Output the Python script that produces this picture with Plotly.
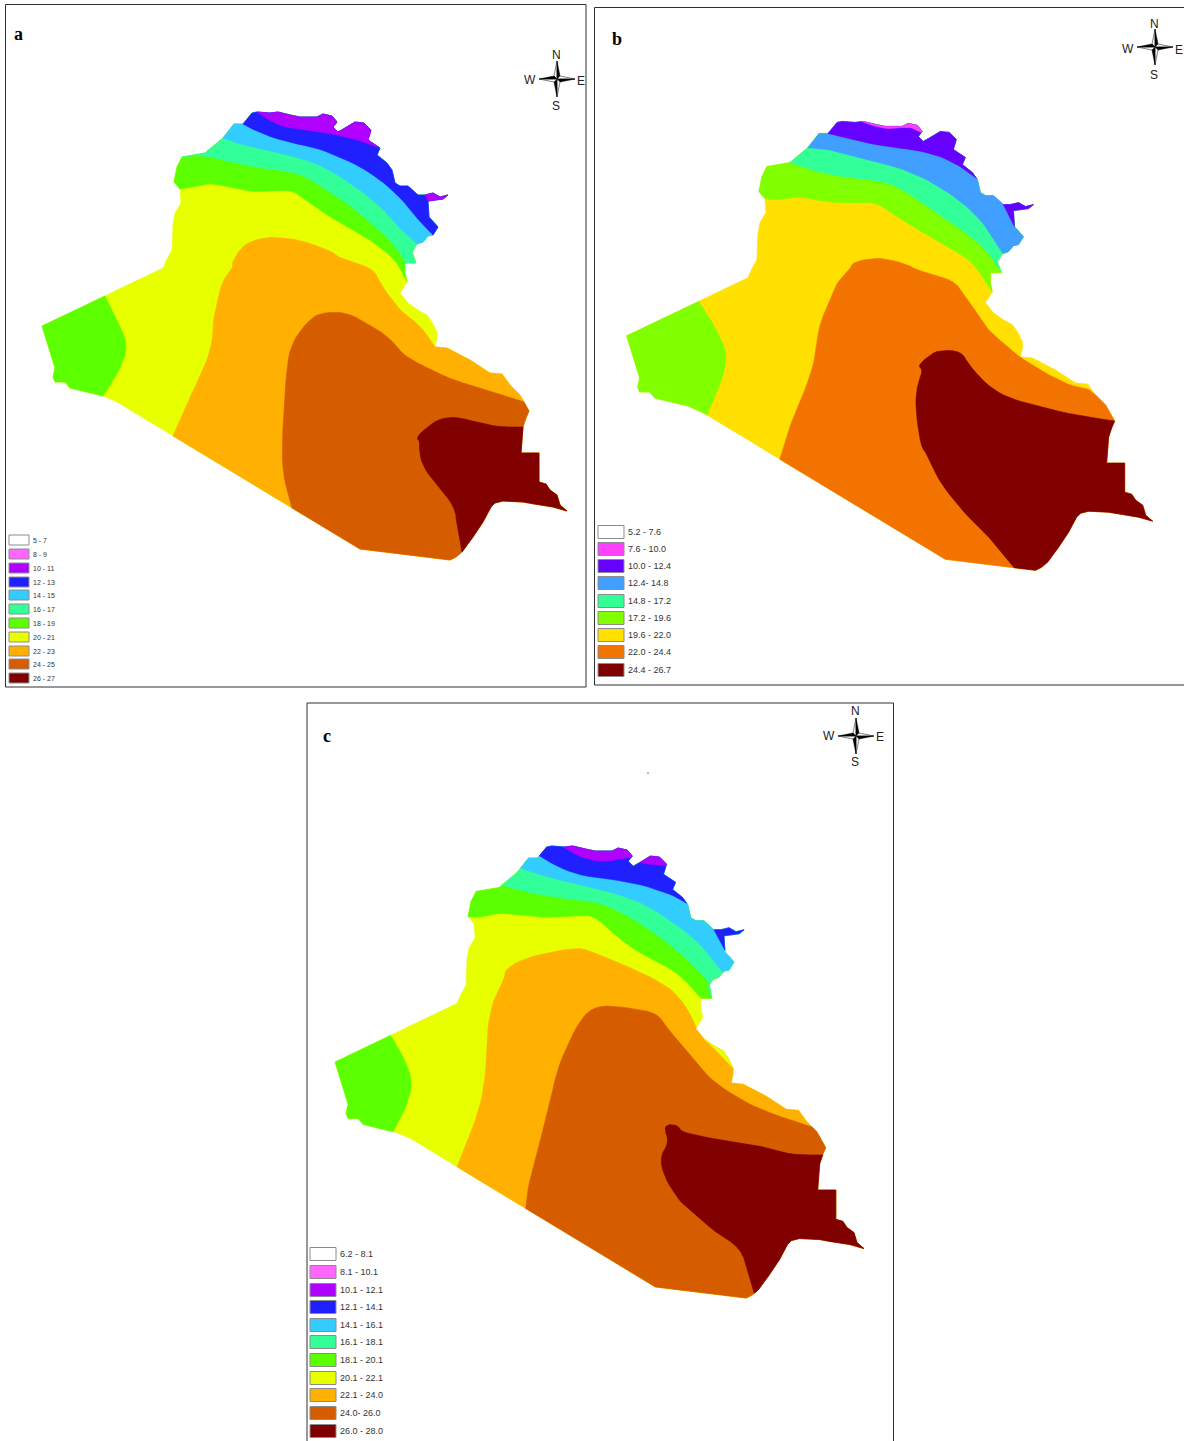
import plotly.graph_objects as go

# Country boundary (pixel-like map coordinates), clockwise
BORDER = [(42,326),(105,296),(138,280),(163,268),(167,259),(172,250),(173,224),(175,213),(181,203),(180,189),(174,182),
(177,167),(182,157),(205,153),(223,138),(234,124),(243,124),(252,113),(257,112),(270,113),(278,112),(290,115),
(300,117),(317,117),(323,114),(332,116),(337,122),(333,127),(338,132),(345,128),(355,122),(364,123),(371,130),
(368,140),(380,148),(377,155),(387,163),(392,170),(395,183),(400,186),(408,186),(418,195),(425,195),(433,193),
(440,197),(448,195),(443,199),(428,201),(429,217),(438,227),(433,235),(428,236),(423,242),(417,244),(412,252),
(416,263),(405,263),(405,273),(407,282),(400,293),(408,303),(418,310),(427,315),(432,322),(437,332),(437,338),(435,347),(447,348),
(470,360),(490,373),(502,374),(510,385),(520,395),(524,402),(529,411),(526,418),(523,427),(521,453),(539,453),
(539,482),(546,484),(550,490),(557,495),(560,505),(567,511),(553,507),(533,504),(523,502),(503,501),(495,503),(491,507),
(483,522),(473,537),(462,552),(456,557),(450,560),(360,549),(292,508),(173,436),(117,402),(103,396),(70,388),(65,382),
(55,382),(53,377),(55,368)]

# Panel a isotherm boundaries
A_GREEN_N = [(407,282),(400,267),(390,255),(373,242),(353,230),(330,217),(310,203),(293,190),(273,191),(253,192),(230,187),(210,183),(193,187),(180,189)]
A_TEAL = [(405,263),(403,257),(390,240),(370,222),(347,203),(323,188),(307,177),(287,171),(260,168),(230,162),(203,155),(182,157)]
A_SKY = [(417,244),(403,232),(387,213),(367,195),(343,178),(320,165),(297,157),(270,151),(243,145),(223,138)]
A_BLUE = [(433,235),(420,222),(407,205),(387,185),(363,168),(340,157),(317,148),(287,142),(260,133),(243,124)]
A_PURPLE = [(380,148),(367,143),(347,137),(327,133),(300,130),(277,125),(257,112)]
A_PURPLE2 = [(428,201),(425,195)]
A_WEST = [(105,296),(113,313),(129,345),(118,373),(103,396)]
A_ORANGE = [(173,436),(187,403),(200,377),(212,347),(213,323),(215,313),(218,297),(223,280),(233,268),(232,263),(238,252),(248,242),(267,237),(287,238),(307,242),(333,252),(337,257),(373,268),(380,283),(392,300),(403,313),(420,325),(435,347)]
A_DARK = [(292,508),(286,488),(282,463),(283,423),(286,377),(290,347),(302,328),(315,315),(330,312),(348,313),(370,325),(390,338),(403,355),(427,368),(453,380),(480,388),(510,397),(524,402)]
A_RED = [(462,552),(457,527),(455,507),(437,485),(423,467),(419,450),(420,442),(416,437),(432,423),(443,418),(457,417),(480,423),(500,427),(523,427)]

# Panel b isotherm boundaries
B_LIME_N = [(992,292),(983,277),(970,260),(953,250),(930,237),(907,223),(890,212),(875,202),(850,203),(827,202),(798,196),(780,200),(766,199)]
B_TEAL = [(1001,272),(990,255),(973,238),(950,222),(923,203),(900,188),(882,181),(850,178),(817,172),(790,163)]
B_SKY = [(1003,254),(983,222),(963,203),(937,185),(913,173),(890,165),(860,158),(833,150),(808,148)]
B_VIOLET = [(977,178),(963,168),(943,157),(917,150),(890,147),(867,143),(847,137),(828,134)]
B_VIOLET2 = [(1014,227),(1003,205)]
B_PINK = [(922,133),(913,128),(905,127),(890,129),(877,127),(862,123)]
B_WEST = [(699,302),(710,318),(723,343),(727,357),(722,380),(707,415)]
B_ORANGE = [(780,459),(789,428),(799,405),(813,368),(816,347),(820,323),(830,300),(837,282),(850,270),(852,263),(867,259),(883,258),(910,265),(913,269),(953,280),(963,293),(977,313),(988,330),(1002,342),(1019,357),(1047,374),(1071,386),(1087,388),(1095,395)]
B_RED = [(1014,569),(992,540),(971,520),(951,497),(937,477),(928,455),(921,447),(916,413),(916,390),(923,370),(918,366),(926,358),(938,350),(961,351),(969,365),(987,385),(1006,397),(1033,405),(1074,415),(1115,421)]

# Panel c isotherm boundaries
C_GREEN_N = [(701,998),(687,982),(670,968),(647,957),(623,942),(597,918),(587,915),(560,917),(537,917),(503,912),(483,917),(468,917)]
C_TEAL = [(712,998),(710,983),(690,962),(667,942),(640,923),(617,910),(597,902),(560,898),(530,893),(503,887)]
C_SKY = [(720,970),(700,943),(677,925),(650,907),(627,897),(603,890),(580,885),(550,878),(523,870)]
C_BLUE = [(687,903),(673,895),(643,885),(617,880),(583,876),(560,868),(542,858)]
C_BLUE2 = [(725,950),(714,930)]
C_PURPLE = [(633,858),(617,860),(600,862),(580,857),(563,848)]
C_PURPLE2 = [(667,866),(655,865),(645,864),(640,862)]
C_WEST = [(391,1036),(404,1058),(413,1082),(406,1108),(393,1132)]
C_ORANGE = [(457,1167),(468,1140),(480,1107),(485,1080),(487,1050),(487,1032),(493,1000),(505,978),(505,970),(520,960),(550,952),(577,948),(588,950),(617,962),(647,975),(673,990),(687,1008),(697,1028)]
C_YELLOW2 = [(733,1068),(722,1056),(704,1039)]
C_DARK = [(526,1208),(528,1187),(537,1153),(550,1103),(557,1070),(571,1037),(585,1013),(602,1005),(630,1008),(657,1013),(667,1028),(692,1057),(709,1078),(733,1095),(757,1108),(784,1118),(811,1128)]
C_RED = [(754,1293),(748,1273),(741,1248),(712,1230),(688,1207),(681,1203),(664,1177),(660,1157),(669,1142),(664,1128),(669,1124),(679,1126),(681,1132),(719,1140),(757,1145),(791,1155),(823,1155)]

# Legend labels and colours
A_LABELS = ["5 - 7","8 - 9","10 - 11","12 - 13","14 - 15","16 - 17","18 - 19","20 - 21","22 - 23","24 - 25","26 - 27"]
B_LABELS = ["5.2 - 7.6","7.6 - 10.0","10.0 - 12.4","12.4- 14.8","14.8 - 17.2","17.2 - 19.6","19.6 - 22.0","22.0 - 24.4","24.4 - 26.7"]
C_LABELS = ["6.2 - 8.1","8.1 - 10.1","10.1 - 12.1","12.1 - 14.1","14.1 - 16.1","16.1 - 18.1","18.1 - 20.1","20.1 - 22.1","22.1 - 24.0","24.0- 26.0","26.0 - 28.0"]
AC_COLORS = ["#FFFFFF","#FF66FF","#B000FF","#2020FF","#33CCFF","#33FF99","#5CFF00","#E8FF00","#FFB000","#D65C00","#800000"]
B_COLORS = ["#FFFFFF","#FF40FF","#6600FF","#409FFF","#33FF99","#80FF00","#FFE000","#F27300","#800000"]
COMPASS_LETTERS = ["N","E","S","W"]

fig = go.Figure()

def poly(pts, color, line=0):
    fig.add_trace(go.Scatter(x=[p[0] for p in pts]+[pts[0][0]], y=[p[1] for p in pts]+[pts[0][1]],
        mode="lines", fill="toself", fillcolor=color,
        line=dict(color=color if not line else "#000000", width=line if line else 0.6),
        hoverinfo="skip", showlegend=False))

def fit(sx, sy, dx, dy):
    return [(x*sx+dx, y*sy+dy) for x, y in BORDER]

def project(outline, p):
    """Nearest place on the outline: (segment index, position along it, point)."""
    best = None
    n = len(outline)
    for i in range(n):
        ax, ay = outline[i]
        bx, by = outline[(i+1) % n]
        dx, dy = bx-ax, by-ay
        t = max(0.0, min(1.0, ((p[0]-ax)*dx+(p[1]-ay)*dy)/max(dx*dx+dy*dy, 1e-9)))
        q = (ax+t*dx, ay+t*dy)
        d = (q[0]-p[0])**2+(q[1]-p[1])**2
        if best is None or d < best[0]:
            best = (d, i, t, q)
    return best[1:]

def rounded(path, rounds=2):
    """Corner cutting so that drawn boundaries look as smooth as the isotherms."""
    for _ in range(rounds):
        new = [path[0]]
        for a, b in zip(path[:-1], path[1:]):
            new.append((0.75*a[0]+0.25*b[0], 0.75*a[1]+0.25*b[1]))
            new.append((0.25*a[0]+0.75*b[0], 0.25*a[1]+0.75*b[1]))
        new.append(path[-1])
        path = new
    return path

def cut(outline, divider):
    ia, ta, qa = project(outline, divider[0])
    ib, tb, qb = project(outline, divider[-1])
    path = rounded([qa]+list(divider[1:-1])+[qb])
    n = len(outline)
    seq = []
    if not (ia == ib and tb <= ta):
        j = (ib+1) % n
        while True:
            seq.append(outline[j])
            if j == ia:
                break
            j = (j+1) % n
    return path+seq

def map_panel(outline, base, layers):
    poly(outline, base)
    for color, divider in layers:
        poly(cut(outline, divider), color)

PA, PB, PC = AC_COLORS, B_COLORS, AC_COLORS
OUT_A = fit(1, 1, 0, 0)
map_panel(OUT_A, PA[7], [(PA[6],A_GREEN_N),(PA[5],A_TEAL),(PA[4],A_SKY),(PA[3],A_BLUE),(PA[2],A_PURPLE),(PA[2],A_PURPLE2),
    (PA[6],A_WEST),(PA[8],A_ORANGE),(PA[9],A_DARK),(PA[10],A_RED)])
OUT_B = fit(1.002, 1.002, 584.6, 9.2)
map_panel(OUT_B, PB[6], [(PB[5],B_LIME_N),(PB[4],B_TEAL),(PB[3],B_SKY),(PB[2],B_VIOLET),(PB[2],B_VIOLET2),(PB[1],B_PINK),
    (PB[5],B_WEST),(PB[7],B_ORANGE),(PB[8],B_RED)])
OUT_C = fit(1.0076, 1.009, 292.7, 733)
map_panel(OUT_C, PC[7], [(PC[6],C_GREEN_N),(PC[5],C_TEAL),(PC[4],C_SKY),(PC[3],C_BLUE),(PC[3],C_BLUE2),(PC[2],C_PURPLE),(PC[2],C_PURPLE2),
    (PC[6],C_WEST),(PC[8],C_ORANGE),(PC[7],C_YELLOW2),(PC[9],C_DARK),(PC[10],C_RED)])

def compass(cx, cy, ly):
    L, W = 18, 3.0
    arms = [((0,-L),(-W,-W),(W,-W)),((L,0),(W,-W),(W,W)),((0,L),(W,W),(-W,W)),((-L,0),(-W,W),(-W,-W))]
    for tip, p, q in arms:
        poly([(cx+tip[0],cy+tip[1]),(cx,cy),(cx+p[0],cy+p[1])],"#FFFFFF",0.5)
        poly([(cx+tip[0],cy+tip[1]),(cx,cy),(cx+q[0],cy+q[1])],"#000000",0.5)
    for ch,(dx,dy) in zip(COMPASS_LETTERS,[(-1,-25),(24,1),(-1,26),(-27,0)]):
        fig.add_annotation(x=cx+dx,y=cy+dy+ly,text=ch,showarrow=False,font=dict(family="Liberation Sans",size=12,color="#222222"))

compass(557,79,0.8); compass(1155,47,1.5); compass(856,736,0.3)

shapes = []
def legend(labels, colors, rows, x0, w, h, tx, size):
    for lab,col,y in zip(labels,colors,rows):
        shapes.append(dict(type="rect",x0=x0,x1=x0+w,y0=y-h/2,y1=y+h/2,line=dict(color="#8c8c8c",width=1),fillcolor=col))
        fig.add_annotation(x=tx,y=y,text=lab,showarrow=False,xanchor="left",
            font=dict(family="Liberation Sans",size=size,color="#333333"))

legend(A_LABELS,AC_COLORS,[540,554,568,582,595,609,623,637,651,664,678],9,20,10,30.5,7)
legend(B_LABELS,B_COLORS,[532,549,566,583,601,618,635,652,670],598,26,13,626,9)
legend(C_LABELS,AC_COLORS,[1254,1272,1290,1307,1325,1342,1360,1378,1395,1413,1431],310,26,13,338,9)

for x0,y0,x1,y1 in [(5.5,4.5,586,687),(594.5,7.5,1195,685),(307,703,893.5,1450)]:
    shapes.append(dict(type="rect",x0=x0,x1=x1,y0=y0,y1=y1,line=dict(color="#303030",width=1),fillcolor="rgba(0,0,0,0)"))

for t,x,y in [("a",18,34),("b",617,39),("c",327,736)]:
    fig.add_annotation(x=x,y=y,text=f"<b>{t}</b>",showarrow=False,font=dict(family="Liberation Serif",size=18,color="#000000"))

fig.add_trace(go.Scatter(x=[648],y=[773],mode="markers",marker=dict(size=1.5,color="#555555"),hoverinfo="skip",showlegend=False))

fig.update_layout(width=1184,height=1441,autosize=False,margin=dict(l=0,r=0,t=0,b=0),
    paper_bgcolor="#FFFFFF",plot_bgcolor="#FFFFFF",shapes=shapes,showlegend=False,
    xaxis=dict(range=[0,1184],visible=False,fixedrange=True),
    yaxis=dict(range=[1441,0],visible=False,fixedrange=True))
fig.write_html("out.html",config={"displayModeBar":False},post_script="document.body.style.margin='0';document.body.style.overflow='hidden';")
